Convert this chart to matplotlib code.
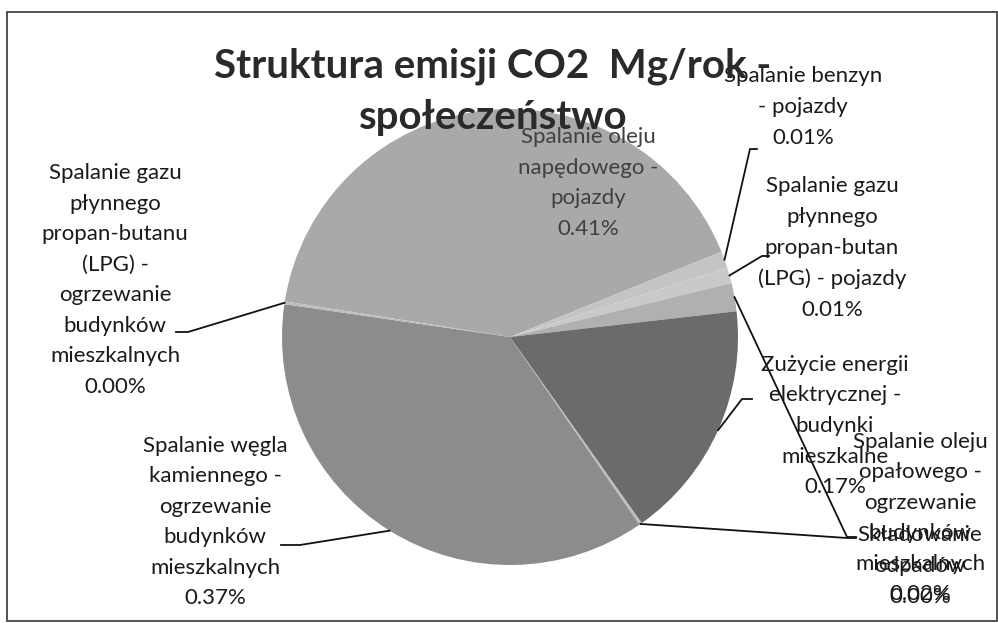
import matplotlib
matplotlib.use("Agg")
import matplotlib.pyplot as plt
from matplotlib.patches import Rectangle
import numpy as np

plt.rcParams['font.family'] = ['Lato', 'DejaVu Sans']

# slices, clockwise from the left edge of the big top slice
names = [
    "Spalanie oleju\nnapędowego -\npojazdy",
    "Spalanie benzyn\n- pojazdy",
    "Spalanie gazu\npłynnego\npropan-butan\n(LPG) - pojazdy",
    "Spalanie oleju\nopałowego -\nogrzewanie\nbudynków\nmieszkalnych",
    "Zużycie energii\nelektrycznej -\nbudynki\nmieszkalne",
    "Składowanie\nodpadów",
    "Spalanie węgla\nkamiennego -\nogrzewanie\nbudynków\nmieszkalnych",
    "Spalanie gazu\npłynnego\npropan-butanu\n(LPG) -\nogrzewanie\nbudynków\nmieszkalnych",
]
values = [0.414, 0.012, 0.011, 0.020, 0.170, 0.002, 0.369, 0.002]
colors = ['#a9a9a9', '#c4c4c4', '#c9c9c9', '#b0b0b0', '#6b6b6b', '#bdbdbd', '#8c8c8c', '#bdbdbd']

# label layout in pixels of the 998x623 picture
CX, CY, R = 510, 337, 228
label_pos = [(588, 183), (803, 107), (832, 248), (920, 518),
             (835, 426), (920, 566), (215, 522), (115, 280)]
leaders = [None, [(750, 149), (757, 149)], [(762, 256), (769, 256)],
           [(847, 537), (856, 537)], [(742, 399), (752, 399)],
           [(847, 538), (856, 538)], [(300, 545), (281, 545)],
           [(188, 332), (176, 332)]]


def px(x, y):
    return (x - CX) / R, (CY - y) / R


fig = plt.figure(figsize=(9.98, 6.23), dpi=100)
ax = fig.add_axes([0, 0, 1, 1])

wedges, _ = ax.pie(values, colors=colors, startangle=171, counterclock=False,
                   radius=1, wedgeprops=dict(linewidth=0))

for w, name, val, pos, lead in zip(wedges, names, values, label_pos, leaders):
    tx, ty = px(*pos)
    inside = lead is None
    ax.text(tx, ty, f"{name}\n{val:.2f}%", ha='center', va='center',
            multialignment='center', fontsize=16, linespacing=1.66,
            color='#404040' if inside else '#1a1a1a', zorder=4)
    if lead:
        mid = np.deg2rad((w.theta1 + w.theta2) / 2)
        xs = [np.cos(mid)] + [px(*p)[0] for p in lead]
        ys = [np.sin(mid)] + [px(*p)[1] for p in lead]
        ax.plot(xs, ys, color='#111111', lw=1.3, zorder=3)

tx, ty = px(493, 92)
ax.text(tx, ty, "Struktura emisji CO2  Mg/rok -\nspołeczeństwo", ha='center',
        va='center', fontsize=29, fontweight='bold', color='#2a2a2a',
        linespacing=1.48, zorder=5)

x0, _ = px(0, 0)
x1, _ = px(998, 0)
_, y0 = px(0, 623)
_, y1 = px(0, 0)
ax.set_xlim(x0, x1)
ax.set_ylim(y0, y1)
ax.set_aspect('equal', adjustable='box')
ax.axis('off')

fig.patches.append(Rectangle((7 / 998, 2 / 623), 990 / 998, 609 / 623,
                             transform=fig.transFigure, fill=False,
                             edgecolor='#444444', lw=1.3))

fig.savefig("out.png", dpi=100, facecolor='white')
